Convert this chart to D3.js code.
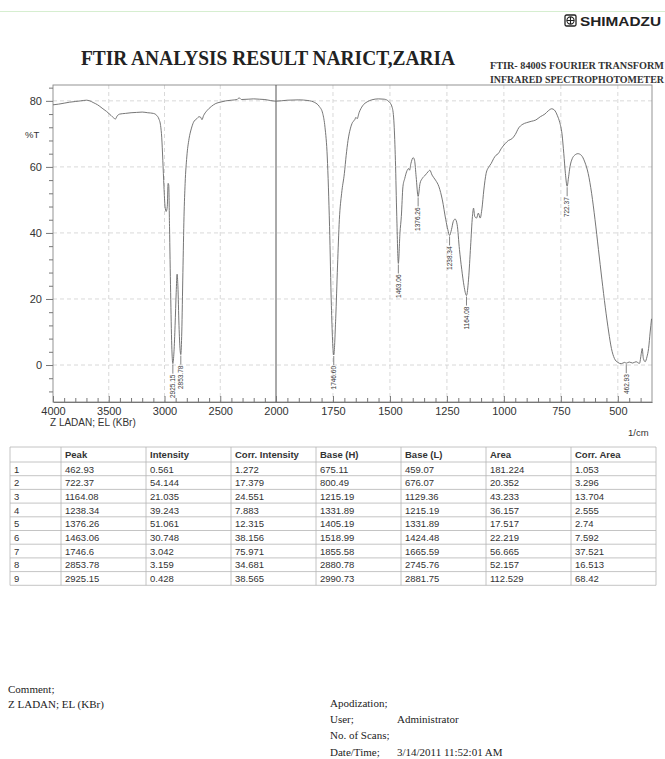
<!DOCTYPE html>
<html>
<head>
<meta charset="utf-8">
<script src="https://cdn.jsdelivr.net/npm/d3@7"></script>
<style>
	body {margin: 0; background: #fff;}
	svg {display: block; font-family: "Liberation Sans", Arial, sans-serif;}
</style>
</head>
<body>
<script>
// spectrum (1/cm, %T)
const specWn = [4000, 3950, 3900, 3850, 3800, 3750, 3700, 3670, 3640, 3600, 3560, 3520, 3480, 3455, 3440, 3425, 3400,
	3350, 3300, 3250, 3200, 3150, 3100, 3070, 3050, 3035, 3025, 3015, 3005, 2995, 2985, 2975, 2968, 2962, 2955, 2945,
	2935, 2925.15, 2915, 2905, 2895, 2887, 2880, 2870, 2860, 2853.78, 2845, 2835, 2825, 2815, 2800, 2780, 2760, 2740,
	2710, 2690, 2675, 2664, 2650, 2620, 2580, 2540, 2500, 2450, 2400, 2350, 2330, 2310, 2250, 2200, 2150, 2100, 2050,
	2000, 1950, 1900, 1860, 1830, 1810, 1795, 1785, 1775, 1765, 1757, 1746.6, 1738, 1730, 1722, 1712, 1700, 1692, 1684,
	1674, 1664, 1655, 1649, 1644, 1635, 1620, 1600, 1580, 1550, 1525, 1505, 1490, 1482, 1476, 1470, 1463.06, 1456,
	1450, 1443, 1435, 1427, 1418, 1414, 1408, 1398, 1392, 1385, 1376.26, 1368, 1358, 1345, 1333, 1325, 1315, 1300,
	1285, 1270, 1255, 1246, 1238.34, 1230, 1222, 1214, 1205, 1195, 1185, 1175, 1164.08, 1155, 1146, 1138, 1133, 1128,
	1120, 1112, 1104, 1096, 1088, 1078, 1066, 1056, 1045, 1035, 1025, 1012, 995, 980, 965, 950, 935, 920, 900, 880,
	860, 840, 820, 805, 790, 778, 765, 755, 745, 737, 730, 722.37, 716, 710, 700, 690, 675, 660, 645, 630, 615, 600,
	585, 570, 555, 540, 528, 515, 500, 485, 470, 462.93, 450, 435, 420, 405, 397, 393, 388, 380, 372, 365, 358, 352];
const specT = [78.8, 79.0, 79.3, 79.6, 79.8, 80.0, 80.2, 80.0, 79.5, 78.8, 77.8, 76.8, 75.6, 74.8, 74.5, 75.4, 76.0,
	76.2, 76.4, 76.5, 76.6, 76.4, 76.2, 75.6, 74.5, 72.5, 69, 62, 54, 48, 46.5, 48, 55, 54.5, 42, 22,
	6, 0.43, 4, 12, 22, 27.5, 24, 12, 4.5, 3.16, 10, 28, 45, 55, 63, 68.5, 71.5, 73.5,
	74.6, 75.2, 75.0, 74.3, 75.5, 77, 78.3, 79.2, 79.6, 80.0, 80.2, 80.4, 80.9, 80.4, 80.5, 80.6, 80.5, 80.4, 80.1,
	79.9, 80.2, 80.3, 80.1, 79.5, 78.3, 76.2, 72, 63, 42, 18, 3.04, 14, 30, 44, 52, 58, 63.5, 68,
	71.5, 73.5, 74.2, 75.0, 74.6, 76.5, 78.5, 79.7, 80.3, 80.6, 80.5, 79.8, 78, 73, 62, 45, 30.75, 40,
	45, 54, 56.5, 58.5, 59.5, 59.0, 61, 62.8, 62, 57, 51.06, 55, 56.5, 57.5, 58.5, 59, 57.5, 56,
	54, 50, 44, 41, 39.24, 41, 43.5, 44.2, 42.5, 35, 29, 24, 21.04, 26, 36, 45, 47.5, 45,
	44.5, 46.0, 44.5, 47.5, 53, 58, 60, 61, 62.5, 63.5, 64, 65.5, 67, 68, 68.5, 69.8, 71.8, 72.8, 73.4, 73.8,
	74.2, 75.2, 76, 77, 77.6, 77.2, 75.5, 73.5, 70, 64, 58, 54.14, 57, 60, 62.5, 63.5, 64, 63.5, 61.5, 58, 52, 44,
	35, 26, 17.5, 10, 5, 2, 0.8, 0.4, 0.8, 0.56, 0.9, 0.6, 1.0, 0.5, 3.5, 5, 2, 1, 2.5, 5, 10, 14];

// peak table
const peakNo = [1, 2, 3, 4, 5, 6, 7, 8, 9];
const peakWn = [462.93, 722.37, 1164.08, 1238.34, 1376.26, 1463.06, 1746.6, 2853.78, 2925.15];
const intensity = [0.561, 54.144, 21.035, 39.243, 51.061, 30.748, 3.042, 3.159, 0.428];
const corrIntensity = [1.272, 17.379, 24.551, 7.883, 12.315, 38.156, 75.971, 34.681, 38.565];
const baseH = [675.11, 800.49, 1215.19, 1331.89, 1405.19, 1518.99, 1855.58, 2880.78, 2990.73];
const baseL = [459.07, 676.07, 1129.36, 1215.19, 1331.89, 1424.48, 1665.59, 2745.76, 2881.75];
const area = [181.224, 20.352, 43.233, 36.157, 17.517, 22.219, 56.665, 52.157, 112.529];
const corrArea = [1.053, 3.296, 13.704, 2.555, 2.74, 7.592, 37.521, 16.513, 68.42];
const columns = ["Peak", "Intensity", "Corr. Intensity", "Base (H)", "Base (L)", "Area", "Corr. Area"];

const xTicks = [4000, 3500, 3000, 2500, 2000, 1750, 1500, 1250, 1000, 750, 500];
const yTicks = [0, 20, 40, 60, 80];

let width = 665, height = 759;
let svg = d3.select("body").append("svg").attr("width", width).attr("height", height);

// Shimadzu plots: 4000-2000 compressed, 2000-350 doubled
let x = d3.scaleLinear().domain([4000, 2000, 350]).range([53, 276, 652]);
let y = d3.scaleLinear().domain([-11.2, 84.8]).range([402, 85]);

// header
svg.append("line").attr("x1", 0).attr("x2", width).attr("y1", 11.5).attr("y2", 11.5)
	.style("stroke", "#d6eed0").style("stroke-width", 1);
let logo = svg.append("g").attr("transform", "translate(565,15)");
logo.append("rect").attr("width", 11).attr("height", 11).attr("rx", 1.5).style("fill", "none").style("stroke", "#222").style("stroke-width", 1.3);
logo.append("circle").attr("cx", 5.5).attr("cy", 5.5).attr("r", 3.6).style("fill", "none").style("stroke", "#222").style("stroke-width", 1.1);
logo.append("path").attr("d", "M5.5,1.9V9.1M1.9,5.5H9.1").style("stroke", "#222").style("stroke-width", 1.1);
svg.append("text").attr("x", 580).attr("y", 26).text("SHIMADZU")
	.attr("textLength", 81).attr("lengthAdjust", "spacingAndGlyphs")
	.style("font-size", "13px").style("font-weight", "bold").style("fill", "#222");

svg.append("text").attr("x", 81).attr("y", 65).text("FTIR ANALYSIS RESULT NARICT,ZARIA")
	.attr("textLength", 374).attr("lengthAdjust", "spacingAndGlyphs")
	.style("font-family", "'Liberation Serif', serif").style("font-size", "22px").style("font-weight", "bold").style("fill", "#222");
[["FTIR- 8400S FOURIER TRANSFORM", 69], ["INFRARED SPECTROPHOTOMETER", 83]].forEach(d => {
	svg.append("text").attr("x", 490).attr("y", d[1]).text(d[0])
		.attr("textLength", 174).attr("lengthAdjust", "spacingAndGlyphs")
		.style("font-family", "'Liberation Serif', serif").style("font-size", "9.5px").style("font-weight", "bold").style("fill", "#333");
});

// grid
let grid = svg.append("g").style("stroke", "#cfcfcf").style("stroke-dasharray", "4,3").style("stroke-width", 0.8);
grid.selectAll("line.gx").data(xTicks.filter(d => d !== 4000 && d !== 2000)).enter().append("line")
	.attr("x1", d => x(d)).attr("x2", d => x(d)).attr("y1", 85).attr("y2", 402);
grid.selectAll("line.gy").data(yTicks).enter().append("line")
	.attr("x1", 53).attr("x2", 652).attr("y1", d => y(d)).attr("y2", d => y(d));

svg.append("rect").attr("x", 53).attr("y", 85).attr("width", 599).attr("height", 317)
	.style("fill", "none").style("stroke", "#888").style("stroke-width", 0.9);
svg.append("line").attr("x1", x(2000)).attr("x2", x(2000)).attr("y1", 85).attr("y2", 402)
	.style("stroke", "#555").style("stroke-width", 1);

// axes
let xMinor = d3.range(3900, 2000, -100).concat(d3.range(1950, 350, -50)).filter(d => xTicks.indexOf(d) < 0);
svg.append("g").attr("transform", "translate(0,402)")
	.call(d3.axisBottom(x).tickValues(xMinor).tickSize(-4).tickFormat(""))
	.call(g => g.select(".domain").remove());
let xAxis = svg.append("g").attr("transform", "translate(0,402)")
	.call(d3.axisBottom(x).tickValues(xTicks).tickSizeInner(-6).tickSizeOuter(0).tickPadding(5).tickFormat(d3.format("d")));
xAxis.select(".domain").style("stroke", "#777");

let yMinor = d3.range(-8, 85, 4).filter(d => d % 20 !== 0);
svg.append("g").attr("transform", "translate(53,0)")
	.call(d3.axisLeft(y).tickValues(yMinor).tickSize(4).tickFormat(""))
	.call(g => g.select(".domain").remove());
svg.append("g").attr("transform", "translate(53,0)")
	.call(d3.axisLeft(y).tickValues(yTicks).tickSize(7).tickPadding(4))
	.call(g => g.select(".domain").remove());

svg.selectAll(".tick line").style("stroke", "#777");
svg.selectAll(".tick text").style("font-size", "11px").style("fill", "#333");

svg.append("text").attr("x", 25).attr("y", 138).text("%T").style("font-size", "9.5px").style("fill", "#333");
svg.append("text").attr("x", 50).attr("y", 426).text("Z LADAN; EL (KBr)").style("font-size", "10px").style("fill", "#333");
svg.append("text").attr("x", 628).attr("y", 436).text("1/cm").style("font-size", "9.5px").style("fill", "#333");

// spectrum
let spec = specWn.map((d, i) => ({wn: d, t: specT[i]}));
let line = d3.line().x(d => x(d.wn)).y(d => y(d.t)).curve(d3.curveMonotoneX);
svg.append("path").datum(spec).attr("d", line)
	.style("fill", "none").style("stroke", "#666").style("stroke-width", 0.9);

// peak markers
let marks = svg.append("g");
peakWn.forEach((p, i) => {
	let px = x(p), py = y(intensity[i]);
	marks.append("line").attr("x1", px).attr("x2", px).attr("y1", py + 1).attr("y2", py + 10)
		.style("stroke", "#666").style("stroke-width", 0.8);
	marks.append("text").attr("transform", `translate(${px},${py + 11}) rotate(-90)`)
		.attr("text-anchor", "end").attr("dy", "0.35em").text(p.toFixed(2))
		.style("font-size", "6.5px").style("fill", "#333");
});

// table
let colX = [10, 61, 146, 231, 316, 401, 486, 571, 656];
let headTop = 447, headH = 15, rowH = 13.7;
let rows = peakNo.map((n, i) => [n, peakWn[i], intensity[i], corrIntensity[i], baseH[i], baseL[i], area[i], corrArea[i]]);
let tb = svg.append("g").style("font-size", "9.5px").style("fill", "#333");
let bottom = headTop + headH + rows.length * rowH;
colX.forEach(cx => {
	tb.append("line").attr("x1", cx).attr("x2", cx).attr("y1", headTop).attr("y2", bottom)
		.style("stroke", "#b5b5b5").style("stroke-width", 0.8);
});
d3.range(rows.length + 2).forEach(k => {
	let ly = k === 0 ? headTop : headTop + headH + (k - 1) * rowH;
	tb.append("line").attr("x1", colX[0]).attr("x2", colX[8]).attr("y1", ly).attr("y2", ly)
		.style("stroke", "#b5b5b5").style("stroke-width", 0.8);
});
columns.forEach((c, j) => {
	tb.append("text").attr("x", colX[j + 1] + 4).attr("y", headTop + 11).text(c)
		.style("font-weight", "bold").style("font-size", "9.5px").style("fill", "#333");
});
rows.forEach((r, i) => {
	r.forEach((v, j) => {
		tb.append("text").attr("x", colX[j] + 4).attr("y", headTop + headH + i * rowH + 10.5).text(String(v));
	});
});

// footer
let foot = svg.append("g").style("font-family", "'Liberation Serif', serif").style("font-size", "11px").style("fill", "#222");
[["Comment;", 8, 693], ["Z LADAN; EL (KBr)", 8, 708], ["Apodization;", 330, 707], ["User;", 330, 723],
	["Administrator", 397, 723], ["No. of Scans;", 330, 739], ["Date/Time;", 330, 756],
	["3/14/2011 11:52:01 AM", 397, 756]].forEach(d => {
	foot.append("text").attr("x", d[1]).attr("y", d[2]).text(d[0]);
});
</script>
</body>
</html>
